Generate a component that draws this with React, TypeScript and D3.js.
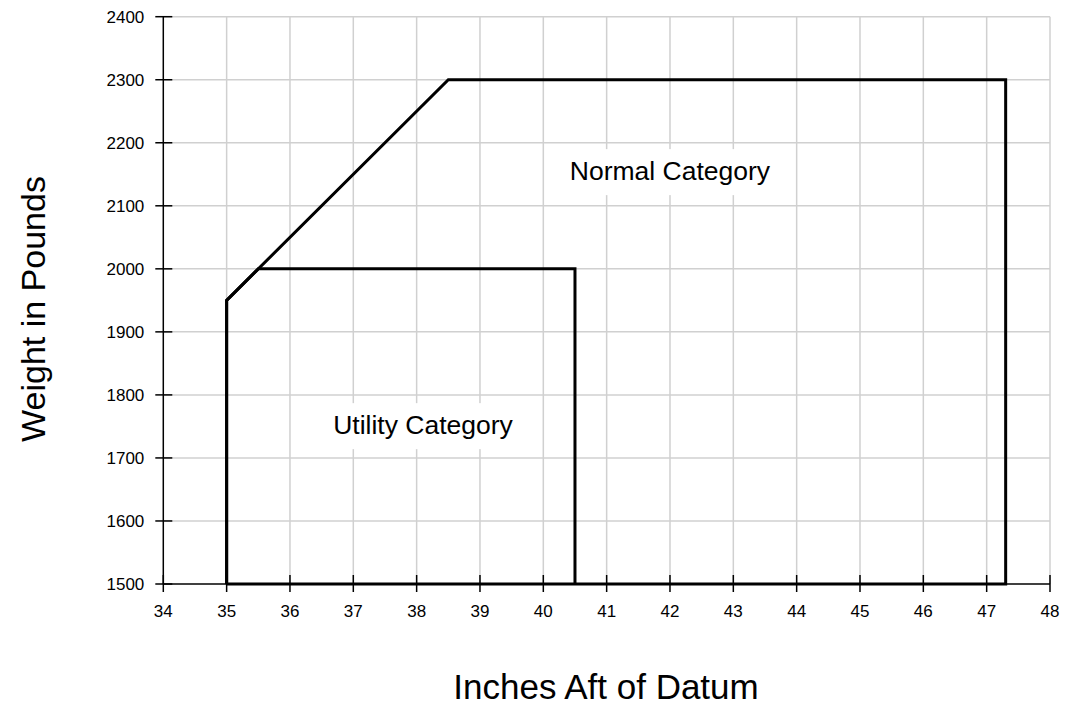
import React from "react";
import * as d3 from "d3";

const xTicks = [34, 35, 36, 37, 38, 39, 40, 41, 42, 43, 44, 45, 46, 47, 48];
const yTicks = [1500, 1600, 1700, 1800, 1900, 2000, 2100, 2200, 2300, 2400];

// envelope points [inches, pounds]
const normalX = [35, 35, 38.5, 47.3, 47.3, 35];
const normalY = [1500, 1950, 2300, 2300, 1500, 1500];
const utilityX = [35, 35, 35.5, 40.5, 40.5];
const utilityY = [1500, 1950, 2000, 2000, 1500];

const labels = ["Normal Category", "Utility Category"];
const labelX = [42.0, 38.1];
const labelY = [2155, 1752];

const W = 1065;
const H = 707;
const FONT = "'Liberation Sans', Arial, Helvetica, sans-serif";

export default function App() {
  const x = d3.scaleLinear().domain([34, 48]).range([163.3, 1050]);
  const y = d3.scaleLinear().domain([1500, 2400]).range([584, 16.7]);

  const line = d3
    .line<[number, number]>()
    .x((d) => x(d[0]))
    .y((d) => y(d[1]));

  const normalPts = normalX.map((v, i) => [v, normalY[i]] as [number, number]);
  const utilityPts = utilityX.map((v, i) => [v, utilityY[i]] as [number, number]);

  const labelWidths = [200, 180];

  return (
    <svg
      width={W}
      height={H}
      style={{ position: "absolute", left: 0, top: 0, background: "#fff" }}
      fontFamily={FONT}
    >
      <rect x={0} y={0} width={W} height={H} fill="#fff" />
      {/* grid */}
      {xTicks.slice(1).map((t) => (
        <line key={"gx" + t} x1={x(t)} x2={x(t)} y1={y(2400)} y2={y(1500)} stroke="#d0d0d0" strokeWidth={1.5} />
      ))}
      {yTicks.slice(1).map((t) => (
        <line key={"gy" + t} x1={x(34)} x2={x(48)} y1={y(t)} y2={y(t)} stroke="#d0d0d0" strokeWidth={1.5} />
      ))}

      {/* labels with white backing */}
      {labels.map((s, i) => (
        <g key={s}>
          <rect
            x={x(labelX[i]) - labelWidths[i] / 2 - 4}
            y={y(labelY[i]) - 22}
            width={labelWidths[i] + 8}
            height={46}
            fill="#fff"
          />
          <text
            x={x(labelX[i])}
            y={y(labelY[i]) + 9}
            textAnchor="middle"
            fontSize={26.5}
            fill="#000"
          >
            {s}
          </text>
        </g>
      ))}

      {/* axes */}
      <line x1={x(34)} x2={x(34)} y1={y(2400)} y2={y(1500)} stroke="#000" strokeWidth={1.5} />
      <line x1={x(34)} x2={x(48)} y1={y(1500)} y2={y(1500)} stroke="#000" strokeWidth={1.5} />
      {yTicks.map((t) => (
        <g key={"ty" + t}>
          <line x1={x(34) - 8} x2={x(34) + 9} y1={y(t)} y2={y(t)} stroke="#000" strokeWidth={1.5} />
          <text x={x(34) - 19} y={y(t)} dy="0.35em" textAnchor="end" fontSize={17} fill="#000">
            {t}
          </text>
        </g>
      ))}
      {xTicks.map((t) => (
        <g key={"tx" + t}>
          <line x1={x(t)} x2={x(t)} y1={y(1500) - 9} y2={y(1500) + 8} stroke="#000" strokeWidth={1.5} />
          <text x={x(t)} y={616.5} textAnchor="middle" fontSize={17} fill="#000">
            {t}
          </text>
        </g>
      ))}

      {/* envelopes */}
      <path d={line(normalPts) ?? ""} fill="none" stroke="#000" strokeWidth={3} strokeLinejoin="miter" />
      <path d={line(utilityPts) ?? ""} fill="none" stroke="#000" strokeWidth={3} strokeLinejoin="miter" />

      {/* titles */}
      <text x={606} y={699} textAnchor="middle" fontSize={35} fill="#000">
        Inches Aft of Datum
      </text>
      <text
        transform={`translate(45, 309) rotate(-90)`}
        textAnchor="middle"
        fontSize={34}
        fill="#000"
      >
        Weight in Pounds
      </text>
    </svg>
  );
}
